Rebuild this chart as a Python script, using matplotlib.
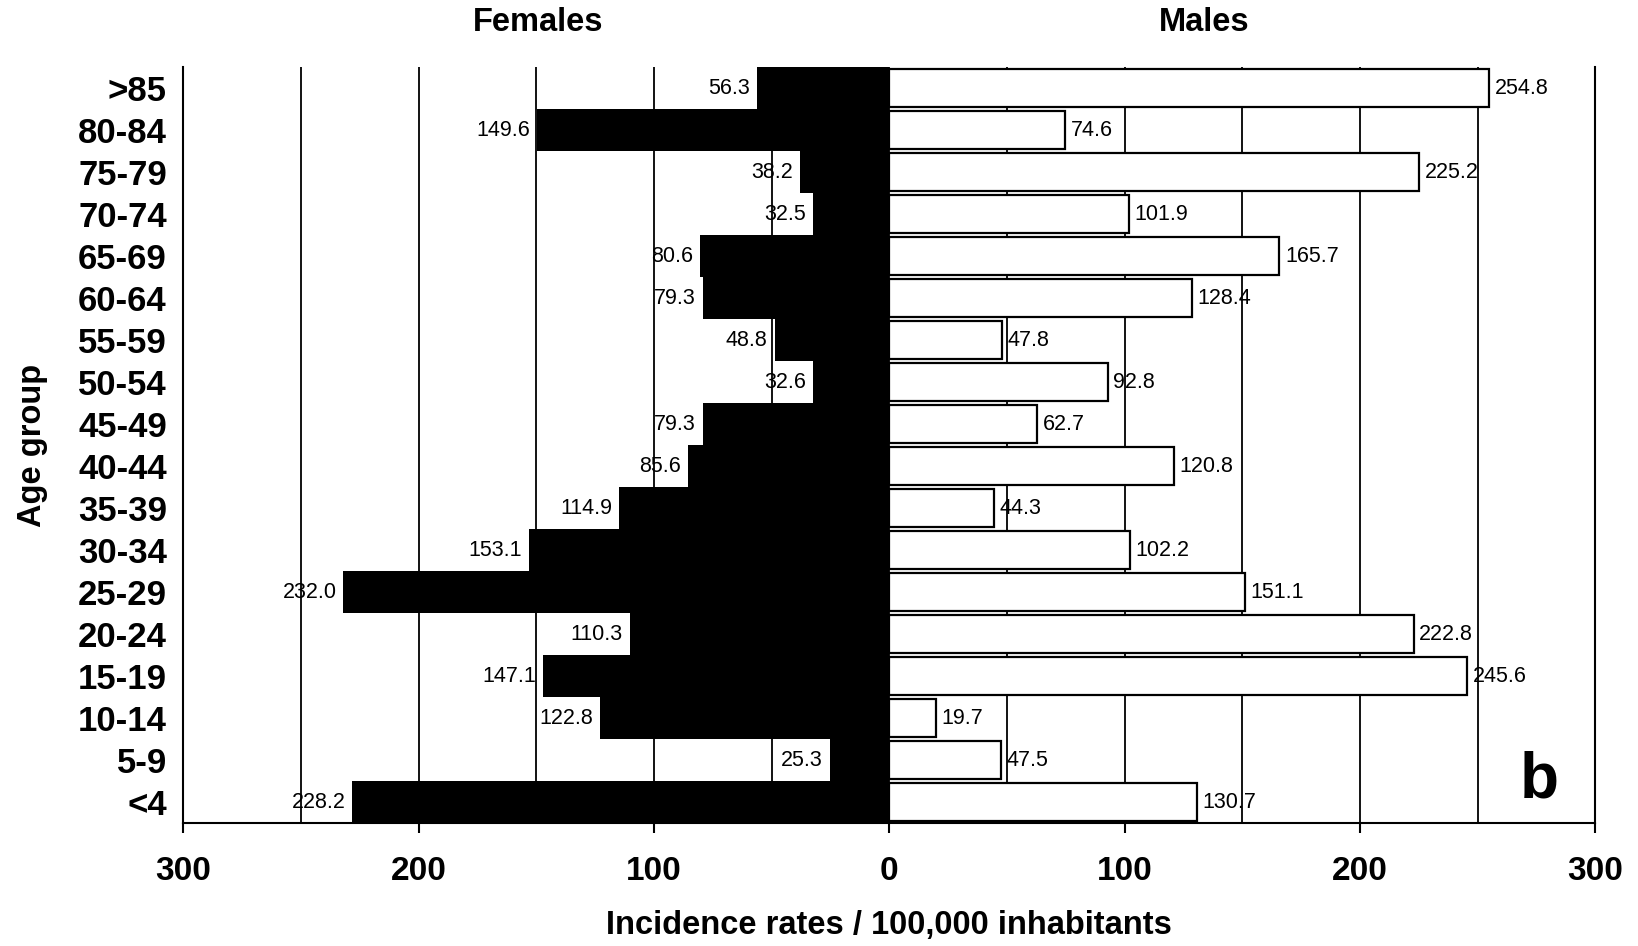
import numpy as np
import matplotlib
matplotlib.use("Agg")
import matplotlib.pyplot as plt

# age groups, bottom to top
age_groups = ["<4", "5-9", "10-14", "15-19", "20-24", "25-29", "30-34", "35-39",
              "40-44", "45-49", "50-54", "55-59", "60-64", "65-69", "70-74",
              "75-79", "80-84", ">85"]
females = [228.2, 25.3, 122.8, 147.1, 110.3, 232.0, 153.1, 114.9, 85.6, 79.3,
           32.6, 48.8, 79.3, 80.6, 32.5, 38.2, 149.6, 56.3]
males = [130.7, 47.5, 19.7, 245.6, 222.8, 151.1, 102.2, 44.3, 120.8, 62.7,
         92.8, 47.8, 128.4, 165.7, 101.9, 225.2, 74.6, 254.8]
xticks = [-300, -200, -100, 0, 100, 200, 300]

plt.rcParams["font.family"] = ["Liberation Sans", "DejaVu Sans"]

fig = plt.figure(figsize=(16.38, 9.46), dpi=100)
ax = fig.add_axes([0.112, 0.130, 0.862, 0.799])

y = np.arange(len(age_groups))
fem = np.array(females)
mal = np.array(males)

ax.barh(y, -fem, height=1.0, color="black", zorder=2)
ax.barh(y, mal, height=0.92, color="white", edgecolor="black", linewidth=1.6, zorder=2)

for yi, v in zip(y, fem):
    ax.annotate(f"{v:.1f}", (-v, yi), xytext=(-5, 0), textcoords="offset points",
                ha="right", va="center", fontsize=15.5, zorder=3)
for yi, v in zip(y, mal):
    ax.annotate(f"{v:.1f}", (v, yi), xytext=(4, 0), textcoords="offset points",
                ha="left", va="center", fontsize=15.5, zorder=3)

ax.set_xlim(-300, 300)
ax.set_ylim(-0.5, len(age_groups) - 0.5)
ax.set_xticks(xticks)
ax.set_xticklabels([str(abs(t)) for t in xticks], fontweight="bold", fontsize=24)
ax.set_xticks(np.arange(-300, 301, 50), minor=True)
ax.set_yticks(y)
ax.set_yticklabels(age_groups, fontweight="bold", fontsize=25)
ax.tick_params(axis="y", length=0, pad=12)
ax.tick_params(axis="x", which="major", length=7, width=1.5, pad=17, direction="out")
ax.tick_params(axis="x", which="minor", length=0)
ax.grid(axis="x", which="both", color="black", linewidth=1.3, zorder=1)
ax.set_axisbelow(True)

for s in ["left", "right", "bottom"]:
    ax.spines[s].set_linewidth(1.5)
ax.spines["top"].set_visible(False)

ax.set_xlabel("Incidence rates / 100,000 inhabitants", fontsize=23.5, fontweight="bold", labelpad=16)
ax.set_ylabel("Age group", fontsize=23.5, fontweight="bold")
ax.yaxis.set_label_coords(-0.096, 0.5)

fig.text(0.3285, 0.976, "Females", ha="center", va="center", fontsize=23.5, fontweight="bold")
fig.text(0.735, 0.976, "Males", ha="center", va="center", fontsize=23.5, fontweight="bold")
ax.text(0.960, 0.056, "b", transform=ax.transAxes, ha="center", va="center",
        fontsize=46, fontweight="bold")

fig.savefig("out.png", dpi=100)
